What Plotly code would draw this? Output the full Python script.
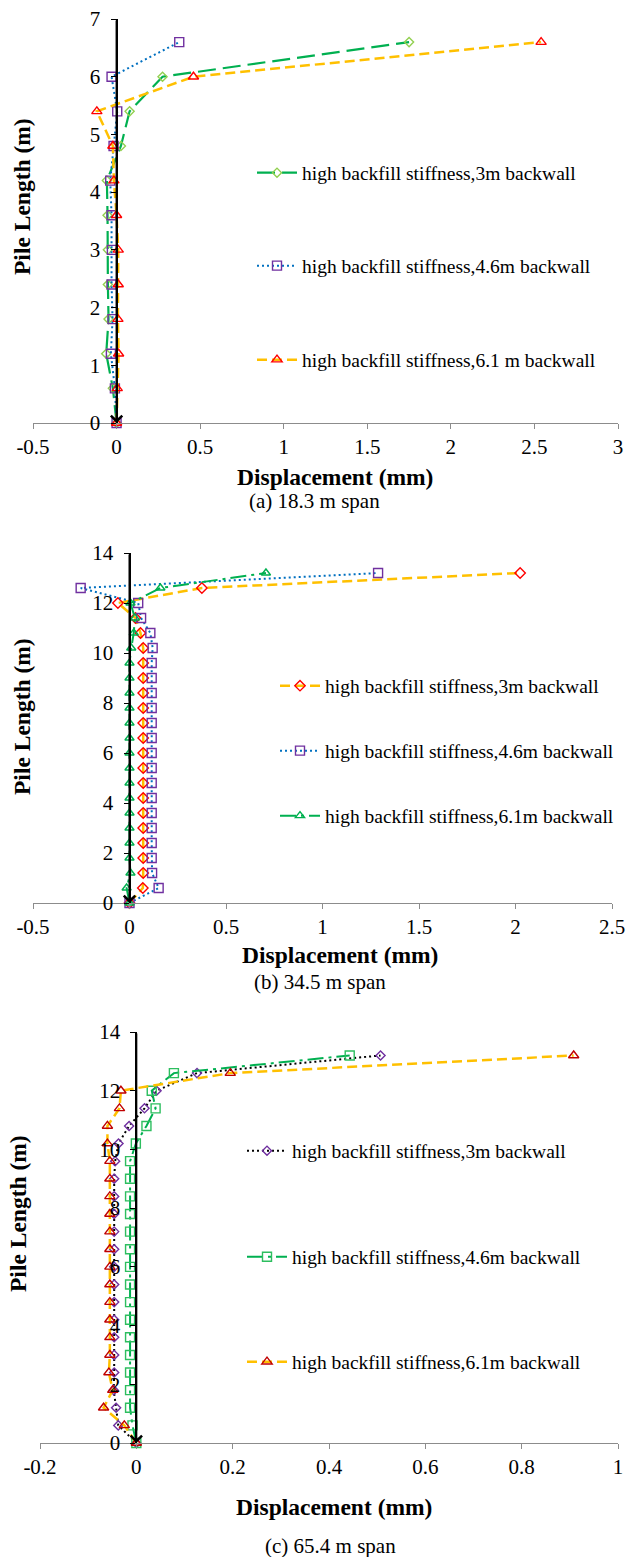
import plotly.graph_objects as go

W, H = 626, 1557

# ---------------- data ----------------
# (a) 18.3 m span
a_depth = [0, 0.6, 1.2, 1.8, 2.4, 3.0, 3.6, 4.2, 4.8, 5.4, 6.0, 6.6]
a_3m = [0, -0.022, -0.062, -0.048, -0.052, -0.052, -0.054, -0.058, 0.026, 0.078, 0.275, 1.75]
a_46m = [0, -0.01, -0.034, -0.024, -0.03, -0.028, -0.03, -0.038, -0.018, 0.004, -0.03, 0.375]
a_61m = [0, 0.004, 0.012, 0.008, 0.01, 0.01, 0.0, -0.016, -0.022, -0.118, 0.46, 2.54]

# (b) 34.5 m span and (c) 65.4 m span
bc_depth = [0, 0.6, 1.2, 1.8, 2.4, 3.0, 3.6, 4.2, 4.8, 5.4, 6.0, 6.6, 7.2, 7.8,
            8.4, 9.0, 9.6, 10.2, 10.8, 11.4, 12.0, 12.6, 13.2]
b_3m = [0, 0.069, 0.071, 0.071, 0.071, 0.071, 0.071, 0.071, 0.071, 0.071, 0.071, 0.071,
        0.071, 0.071, 0.071, 0.071, 0.071, 0.071, 0.057, 0.031, -0.06, 0.375, 2.024]
b_46m = [0, 0.151, 0.117, 0.115, 0.115, 0.115, 0.115, 0.115, 0.115, 0.115, 0.115, 0.115,
         0.115, 0.115, 0.115, 0.115, 0.115, 0.12, 0.108, 0.06, 0.045, -0.253, 1.288]
b_61m = [0, -0.015, 0.005, 0.0, 0.0, 0.0, 0.0, 0.0, 0.0, 0.0, 0.0, 0.0,
         0.0, 0.0, 0.0, 0.0, 0.0, 0.009, 0.022, 0.028, 0.005, 0.16, 0.707]

c_3m = [0, -0.0375, -0.042, -0.047, -0.046, -0.046, -0.046, -0.046, -0.046, -0.046, -0.046,
        -0.046, -0.046, -0.046, -0.046, -0.046, -0.044, -0.037, -0.015, 0.017, 0.042, 0.126, 0.507]
c_46m = [0, -0.008, -0.013, -0.013, -0.013, -0.013, -0.013, -0.013, -0.013, -0.013, -0.013,
         -0.013, -0.013, -0.013, -0.013, -0.013, -0.013, -0.001, 0.021, 0.04, 0.032, 0.078, 0.443]
c_61m = [0, -0.025, -0.068, -0.049, -0.057, -0.055, -0.055, -0.055, -0.055, -0.055, -0.055,
         -0.055, -0.055, -0.055, -0.055, -0.055, -0.055, -0.06, -0.06, -0.035, -0.032, 0.195, 0.908]

a_names = ["high backfill stiffness,3m backwall", "high backfill stiffness,4.6m backwall",
           "high backfill stiffness,6.1 m backwall"]
bc_names = ["high backfill stiffness,3m backwall", "high backfill stiffness,4.6m backwall",
            "high backfill stiffness,6.1m backwall"]

a_xticks = [-0.5, 0, 0.5, 1, 1.5, 2, 2.5, 3]
a_xticktext = ["-0.5", "0", "0.5", "1", "1.5", "2", "2.5", "3"]
b_xticks = [-0.5, 0, 0.5, 1, 1.5, 2, 2.5]
b_xticktext = ["-0.5", "0", "0.5", "1", "1.5", "2", "2.5"]
c_xticks = [-0.2, 0, 0.2, 0.4, 0.6, 0.8, 1]
c_xticktext = ["-0.2", "0", "0.2", "0.4", "0.6", "0.8", "1"]
a_yticks = [0, 1, 2, 3, 4, 5, 6, 7]
bc_yticks = [0, 2, 4, 6, 8, 10, 12, 14]

captions = ["(a) 18.3 m span", "(b) 34.5 m span", "(c) 65.4 m span"]

# ---------------- styling ----------------
FONT = "Liberation Serif"
GREEN = "#00B050"
LGREEN = "#92D050"
BLUE = "#0070C0"
PURPLE = "#7030A0"
GOLD = "#FFC000"
RED = "#FF0000"
DRED = "#C00000"
GRAY = "#8C8C8C"

DASH_GOLD = "10px,5px"
DASH_GLONG = "18px,7px"
DOT = "2px,3px"
DASH_GDD = "16px,5px,3px,5px"


def px(x):
    return x / W


def py(y):
    return 1 - y / H


panels = [
    dict(xd=(33, 618), yd=(19, 423), xr=(-0.5, 3), yr=(0, 7),
         xt=a_xticks, xtt=a_xticktext, yt=a_yticks,
         xtitle=(335, 477), ytitle=(22, 197), cap=(314, 501)),
    dict(xd=(33, 612), yd=(553, 903), xr=(-0.5, 2.5), yr=(0, 14),
         xt=b_xticks, xtt=b_xticktext, yt=bc_yticks,
         xtitle=(340, 955), ytitle=(22, 717), cap=(320, 982)),
    dict(xd=(40, 618), yd=(1032, 1443), xr=(-0.2, 1), yr=(0, 14),
         xt=c_xticks, xtt=c_xticktext, yt=bc_yticks,
         xtitle=(334, 1507), ytitle=(18, 1214), cap=(330, 1546)),
]

series = [
    [  # (a)
        dict(x=a_3m, y=a_depth, name=a_names[0], lc=GREEN, dash=DASH_GLONG, lw=2.2,
             sym="diamond-open", mc=LGREEN, ms=7),
        dict(x=a_46m, y=a_depth, name=a_names[1], lc=BLUE, dash=DOT, lw=2,
             sym="square-open", mc=PURPLE, ms=9),
        dict(x=a_61m, y=a_depth, name=a_names[2], lc=GOLD, dash=DASH_GOLD, lw=2.5,
             sym="triangle-up-open", mc=RED, ms=9),
    ],
    [  # (b)
        dict(x=b_3m, y=bc_depth, name=bc_names[0], lc=GOLD, dash=DASH_GOLD, lw=2.5,
             sym="diamond-open", mc=RED, ms=8),
        dict(x=b_46m, y=bc_depth, name=bc_names[1], lc=BLUE, dash=DOT, lw=2,
             sym="square-open", mc=PURPLE, ms=9),
        dict(x=b_61m, y=bc_depth, name=bc_names[2], lc=GREEN, dash=DASH_GDD, lw=2,
             sym="triangle-up-open", mc=GREEN, ms=8),
    ],
    [  # (c)
        dict(x=c_3m, y=bc_depth, name=bc_names[0], lc="#000000", dash=DOT, lw=2,
             sym="diamond-open", mc=PURPLE, ms=7),
        dict(x=c_46m, y=bc_depth, name=bc_names[1], lc=GREEN, dash=DASH_GDD, lw=2,
             sym="square-open", mc="#2DBE5F", ms=9),
        dict(x=c_61m, y=bc_depth, name=bc_names[2], lc=GOLD, dash=DASH_GOLD, lw=2.5,
             sym="triangle-up-open", mc=DRED, ms=9),
    ],
]

legend_pos = [
    dict(x=252, ys=[173, 266, 360]),
    dict(x=275, ys=[686, 751, 816]),
    dict(x=242, ys=[1151, 1257, 1362]),
]

fig = go.Figure()
layout = dict(
    width=W, height=H, margin=dict(l=0, r=0, t=0, b=0, autoexpand=False),
    paper_bgcolor="white", plot_bgcolor="white",
    font=dict(family=FONT, size=21, color="black"),
    showlegend=True,
)
annotations = []

for i, (p, sers) in enumerate(zip(panels, series)):
    k = "" if i == 0 else str(i + 1)
    xa, ya = "x" + k, "y" + k
    xdom = [px(p["xd"][0]), px(p["xd"][1])]
    ydom = [py(p["yd"][1]), py(p["yd"][0])]
    xr = p["xr"]
    ypos = xdom[0] + (0 - xr[0]) / (xr[1] - xr[0]) * (xdom[1] - xdom[0])

    layout["xaxis" + k] = dict(
        domain=xdom, range=list(xr), anchor=ya, showgrid=False, zeroline=False,
        automargin=False,
        showline=True, linecolor=GRAY, linewidth=1.3,
        ticks="outside", ticklen=5, tickcolor=GRAY, tickwidth=1.3,
        tickvals=p["xt"], ticktext=p["xtt"], ticklabelstandoff=0,
        tickfont=dict(family=FONT, size=21, color="black"),
    )
    layout["yaxis" + k] = dict(
        domain=ydom, range=list(p["yr"]), anchor="free", position=ypos,
        showgrid=False, zeroline=False, automargin=False,
        showline=True, linecolor="black", linewidth=2,
        ticks="outside", ticklen=5, tickcolor="black", tickwidth=1.3,
        tickvals=p["yt"], ticklabelstandoff=6,
        tickfont=dict(family=FONT, size=21, color="black"),
    )

    for j, s in enumerate(sers):
        lg = "legend" + ("" if (3 * i + j) == 0 else str(3 * i + j + 1))
        fig.add_trace(go.Scatter(
            x=s["x"], y=s["y"], name=s["name"], mode="lines+markers",
            line=dict(color=s["lc"], width=s["lw"], dash=s["dash"]),
            marker=dict(symbol=s["sym"], size=s["ms"],
                        color=s["mc"], line=dict(color=s["mc"], width=1.4)),
            xaxis=xa, yaxis=ya, legend=lg, cliponaxis=False,
        ))
        layout[lg] = dict(
            x=px(legend_pos[i]["x"]), xanchor="left",
            y=py(legend_pos[i]["ys"][j]), yanchor="middle",
            bgcolor="rgba(0,0,0,0)", borderwidth=0, itemwidth=40,
            font=dict(family=FONT, size=19.5, color="black"),
        )

    # arrow head at the bottom of the vertical (pile) axis
    annotations.append(dict(
        x=0, y=0, xref=xa, yref=ya, ax=0, ay=p["yr"][1], axref=xa, ayref=ya,
        text="", showarrow=True, arrowhead=4, arrowsize=1.1, arrowwidth=2,
        arrowcolor="black",
    ))
    annotations.append(dict(
        x=px(p["xtitle"][0]), y=py(p["xtitle"][1]), xref="paper", yref="paper",
        text="<b>Displacement (mm)</b>", showarrow=False, xanchor="center", yanchor="middle",
        font=dict(family=FONT, size=23.5, color="black"),
    ))
    annotations.append(dict(
        x=px(p["ytitle"][0]), y=py(p["ytitle"][1]), xref="paper", yref="paper",
        text="<b>Pile Length (m)</b>", showarrow=False, textangle=-90,
        xanchor="center", yanchor="middle",
        font=dict(family=FONT, size=23.5, color="black"),
    ))
    annotations.append(dict(
        x=px(p["cap"][0]), y=py(p["cap"][1]), xref="paper", yref="paper",
        text=captions[i], showarrow=False, xanchor="center", yanchor="middle",
        font=dict(family=FONT, size=21, color="black"),
    ))

layout["annotations"] = annotations
fig.update_layout(**layout)
fig.write_html(
    "out.html",
    config={"displayModeBar": False},
    post_script="document.body.style.margin='0';document.body.style.overflow='hidden';",
)
